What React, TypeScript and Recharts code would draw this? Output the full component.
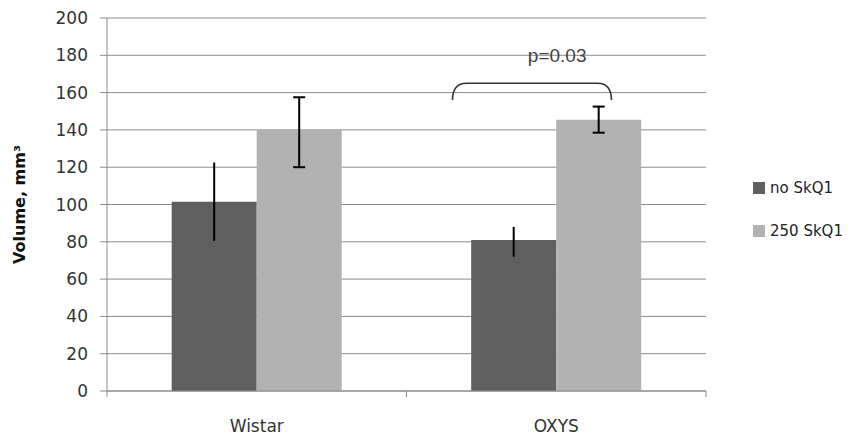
import React from 'react';
import { BarChart, Bar, XAxis, YAxis, CartesianGrid, ErrorBar } from 'recharts';

const categories = ['Wistar', 'OXYS'];
const noSkQ1 = [101.5, 81];
const skQ1 = [140, 145.5];
const noSkQ1ErrLow = [21, 9];
const noSkQ1ErrHigh = [21, 7];
const skQ1ErrLow = [20, 7];
const skQ1ErrHigh = [17.5, 7];
const yTicks = [0, 20, 40, 60, 80, 100, 120, 140, 160, 180, 200];
const seriesNames = ['no SkQ1', '250 SkQ1'];
const pLabel = 'p=0.03';

const data = categories.map((name, i) => ({
  name,
  no: noSkQ1[i],
  skq: skQ1[i],
  noErr: [noSkQ1ErrLow[i], noSkQ1ErrHigh[i]],
  skqErr: [skQ1ErrLow[i], skQ1ErrHigh[i]],
}));

const FONT = '"DejaVu Sans", sans-serif';
const GRID = '#8c8c8c';
const DARK = '#5f5f5f';
const LIGHT = '#b2b2b2';

function XTick(props: any) {
  const { x, y, payload, width, visibleTicksCount } = props;
  const half = width / (2 * visibleTicksCount);
  return (
    <g>
      <line x1={x - half} x2={x - half} y1={y - 6} y2={y} stroke={GRID} />
      {payload.index === visibleTicksCount - 1 && (
        <line x1={x + half} x2={x + half} y1={y - 6} y2={y} stroke={GRID} />
      )}
      <text x={x} y={y + 29} textAnchor="middle" dominantBaseline="central" fill="#333" fontSize={17} fontFamily={FONT}>
        {payload.value}
      </text>
    </g>
  );
}

function YLabel(props: any) {
  const { viewBox } = props;
  const cx = viewBox.x + 11;
  const cy = viewBox.y + viewBox.height / 2;
  return (
    <text
      x={cx}
      y={cy}
      transform={`rotate(-90, ${cx}, ${cy})`}
      textAnchor="middle"
      dominantBaseline="central"
      fontSize={16}
      fontWeight="bold"
      fontFamily={FONT}
      fill="#111"
    >
      Volume, mm³
    </text>
  );
}

// significance brace over the OXYS pair, placed from the bar geometry
function Brace(props: any) {
  const { x, y, width, height, value, index } = props;
  if (index !== 1) return null;
  const base = y + height;
  const ppu = height / value;
  const yAt = (v: number) => base - v * ppu;
  const left = x - width * 1.22;
  const right = x + width * 0.65;
  const top = yAt(165);
  const end = yAt(156);
  const r = 14;
  return (
    <g>
      <path
        d={`M${left},${end} Q${left},${top} ${left + r},${top} L${right - r},${top} Q${right},${top} ${right},${end}`}
        fill="none"
        stroke="#333"
        strokeWidth={1.6}
      />
      <text x={x + 1} y={yAt(180)} textAnchor="middle" dominantBaseline="central" fontSize={19} fontFamily='"Liberation Sans", Arial, sans-serif' fill="#444">
        {pLabel}
      </text>
    </g>
  );
}

function LegendBox() {
  const colors = [DARK, LIGHT];
  return (
    <div style={{ position: 'absolute', left: 745, top: 158, fontFamily: FONT, fontSize: 15, color: '#222' }}>
      {seriesNames.map((label, i) => (
        <div key={label} style={{ height: 43, display: 'flex', alignItems: 'center', whiteSpace: 'nowrap' }}>
          <span style={{ width: 12, height: 12, background: colors[i], display: 'inline-block', marginRight: 5 }} />
          <span>{label}</span>
        </div>
      ))}
    </div>
  );
}

export default function App() {
  return (
    <div style={{ position: 'relative', width: 846, height: 431 }}>
      <BarChart
        width={846}
        height={431}
        data={data}
        margin={{ top: 10, right: 148, bottom: 0, left: 0 }}
        barCategoryGap="21.6%"
        barGap={0}
        style={{ fontFamily: FONT }}
      >
        <CartesianGrid vertical={false} stroke={GRID} />
        <XAxis
          dataKey="name"
          height={48}
          tickLine={false}
          tickSize={6}
          tickMargin={0}
          axisLine={{ stroke: GRID }}
          tick={<XTick />}
        />
        <YAxis
          width={99}
          domain={[0, 200]}
          ticks={yTicks}
          interval={0}
          tickSize={7}
          tickMargin={12}
          axisLine={{ stroke: GRID }}
          tickLine={{ stroke: GRID }}
          tick={{ fill: '#333', fontSize: 17, fontFamily: FONT }}
          label={<YLabel />}
        />
        <Bar dataKey="no" name={seriesNames[0]} fill={DARK} isAnimationActive={false}>
          <ErrorBar dataKey="noErr" width={0} stroke="#000" strokeWidth={2} />
        </Bar>
        <Bar dataKey="skq" name={seriesNames[1]} fill={LIGHT} isAnimationActive={false} label={<Brace />}>
          <ErrorBar dataKey="skqErr" width={6} stroke="#000" strokeWidth={2} />
        </Bar>
      </BarChart>
      <LegendBox />
    </div>
  );
}
